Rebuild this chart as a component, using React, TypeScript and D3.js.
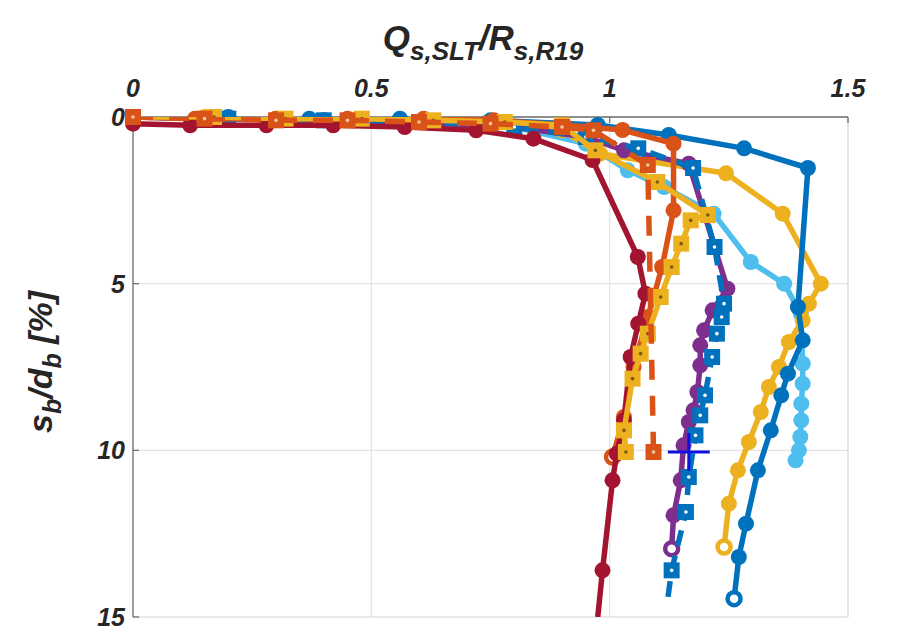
import React from "react";
import * as d3 from "d3";

// ---- data (x = Qs,SLT/Rs,R19, y = sb/db [%]) ----
const redX = [0, 0.12, 0.28, 0.42, 0.57, 0.72, 0.84, 0.964, 1.059, 1.075, 1.06, 1.044, 1.03, 1.015, 1.006, 0.985, 0.975];
const redY = [0.2, 0.25, 0.25, 0.25, 0.3, 0.4, 0.65, 1.29, 4.2, 5.3, 6.2, 7.2, 9.1, 10.1, 10.9, 13.6, 15];

const orangeX = [0, 0.13, 0.3, 0.45, 0.61, 0.757, 0.904, 1.027, 1.134, 1.134, 1.11, 1.08, 1.05, 1.03, 1.006];
const orangeY = [0, 0.05, 0.05, 0.05, 0.05, 0.1, 0.24, 0.39, 0.8, 2.8, 4.5, 6.0, 7.5, 9.0, 10.2];

const orangeDashX = [0, 0.15, 0.3, 0.45, 0.6, 0.75, 0.9, 0.966, 1.08, 1.092];
const orangeDashY = [0, 0.05, 0.1, 0.1, 0.15, 0.2, 0.3, 0.4, 1.44, 10.05];

const yellowSqX = [0, 0.17, 0.32, 0.48, 0.63, 0.78, 0.9, 0.97, 1.1, 1.206, 1.17, 1.15, 1.13, 1.107, 1.08, 1.065, 1.048, 1.03, 1.034];
const yellowSqY = [0, 0.0, 0.05, 0.05, 0.1, 0.15, 0.25, 1.0, 1.95, 2.94, 3.1, 3.8, 4.5, 5.4, 6.5, 7.1, 7.85, 9.4, 10.05];

const yellowX = [0, 0.15, 0.3, 0.45, 0.6, 0.75, 0.9, 0.98, 1.244, 1.363, 1.443, 1.418, 1.405, 1.376, 1.355, 1.334, 1.317, 1.292, 1.269, 1.25, 1.24];
const yellowY = [0, 0, 0.05, 0.1, 0.15, 0.2, 0.4, 1.1, 1.69, 2.9, 5.0, 5.6, 6.1, 6.75, 7.5, 8.1, 8.85, 9.75, 10.6, 11.6, 12.9];

const blueX = [0, 0.2, 0.37, 0.56, 0.75, 0.975, 1.124, 1.282, 1.416, 1.395, 1.405, 1.374, 1.36, 1.338, 1.311, 1.286, 1.271, 1.261];
const blueY = [0, 0, 0.05, 0.05, 0.1, 0.24, 0.54, 0.94, 1.53, 5.7, 6.7, 7.7, 8.35, 9.4, 10.6, 12.2, 13.2, 14.45];

const lightBlueX = [0, 0.2, 0.4, 0.6, 0.8, 0.95, 1.038, 1.114, 1.218, 1.296, 1.366, 1.401, 1.405, 1.405, 1.402, 1.402, 1.4, 1.397, 1.39];
const lightBlueY = [0, 0.05, 0.1, 0.15, 0.3, 0.8, 1.6, 2.1, 2.9, 4.35, 5.0, 5.9, 7.4, 8.0, 8.6, 9.1, 9.6, 10.0, 10.3];

const purpleX = [0, 0.2, 0.4, 0.6, 0.8, 0.95, 1.03, 1.166, 1.247, 1.216, 1.198, 1.19, 1.19, 1.184, 1.176, 1.166, 1.155, 1.149, 1.134, 1.13];
const purpleY = [0, 0.05, 0.1, 0.15, 0.3, 0.6, 1.0, 1.4, 5.15, 5.8, 6.4, 6.85, 7.45, 8.25, 8.8, 9.15, 9.85, 10.9, 11.95, 12.95];

const blueSqX = [0, 0.2, 0.4, 0.6, 0.8, 0.95, 1.06, 1.175, 1.22, 1.24, 1.235, 1.225, 1.215, 1.2, 1.19, 1.18, 1.166, 1.16, 1.13, 1.12];
const blueSqY = [0, 0.05, 0.1, 0.15, 0.3, 0.6, 0.94, 1.53, 3.9, 5.6, 6.0, 6.5, 7.2, 8.35, 8.95, 9.55, 10.8, 11.85, 13.6, 14.65];

const plusX = [1.166];
const plusY = [10.05];

const xTicks = [0, 0.5, 1, 1.5];
const yTicks = [0, 5, 10, 15];

// ---- styling ----
type Series = {
  xs: number[];
  ys: number[];
  color: string;
  marker: "circle" | "square";
  dash?: string;
  hollowLast?: boolean;
  noMarkerLast?: boolean;
  dot?: string;
};

const series: Series[] = [
  { xs: lightBlueX, ys: lightBlueY, color: "#4DBEEE", marker: "circle" },
  { xs: yellowX, ys: yellowY, color: "#EDB120", marker: "circle", hollowLast: true },
  { xs: blueX, ys: blueY, color: "#0072BD", marker: "circle", hollowLast: true },
  { xs: purpleX, ys: purpleY, color: "#7E2F8E", marker: "circle", hollowLast: true },
  { xs: blueSqX, ys: blueSqY, color: "#0072BD", marker: "square", dash: "16 10", noMarkerLast: true, dot: "#ffffff" },
  { xs: orangeX, ys: orangeY, color: "#D95319", marker: "circle", hollowLast: true },
  { xs: redX, ys: redY, color: "#A2142F", marker: "circle", noMarkerLast: true },
  { xs: yellowSqX, ys: yellowSqY, color: "#EDB120", marker: "square", dot: "#7a5a10" },
  { xs: orangeDashX, ys: orangeDashY, color: "#D95319", marker: "square", dash: "20 16", dot: "#f5c9a0" },
];

const W = 897;
const H = 634;
const L = 133, R = 848, T = 117, B = 617;

export default function App() {
  const x = d3.scaleLinear().domain([0, 1.5]).range([L, R]);
  const y = d3.scaleLinear().domain([0, 15]).range([T, B]);
  const font = "'Liberation Sans', Arial, sans-serif";
  const line = d3.line<[number, number]>().x((d) => x(d[0])).y((d) => y(d[1]));

  return (
    <svg width={W} height={H} style={{ position: "absolute", left: 0, top: 0, background: "#fff" }}>
      <defs>
        <clipPath id="plotclip">
          <rect x={L} y={T} width={R - L} height={B - T} />
        </clipPath>
      </defs>
      <rect x={0} y={0} width={W} height={H} fill="#fff" />
      {/* grid */}
      {xTicks.slice(1, -1).map((t) => (
        <line key={"gx" + t} x1={x(t)} x2={x(t)} y1={T} y2={B} stroke="#e3e3e3" strokeWidth={1.2} />
      ))}
      {yTicks.slice(1, -1).map((t) => (
        <line key={"gy" + t} x1={L} x2={R} y1={y(t)} y2={y(t)} stroke="#e3e3e3" strokeWidth={1.2} />
      ))}
      {/* box */}
      <line x1={R} x2={R} y1={T} y2={B} stroke="#d4d4d4" strokeWidth={1.2} />
      <line x1={L} x2={R} y1={B} y2={B} stroke="#d4d4d4" strokeWidth={1.2} />
      <line x1={L} x2={R} y1={T} y2={T} stroke="#6a6a6a" strokeWidth={1.3} />
      <line x1={L} x2={L} y1={T} y2={B} stroke="#6a6a6a" strokeWidth={1.3} />
      {xTicks.map((t) => (
        <line key={"tx" + t} x1={x(t)} x2={x(t)} y1={T} y2={T + 6} stroke="#6a6a6a" strokeWidth={1.2} />
      ))}
      {yTicks.map((t) => (
        <line key={"ty" + t} x1={L} x2={L + 6} y1={y(t)} y2={y(t)} stroke="#6a6a6a" strokeWidth={1.2} />
      ))}
      {/* tick labels */}
      {xTicks.map((t) => (
        <text key={"lx" + t} x={x(t)} y={T - 20} textAnchor="middle" fontFamily={font} fontWeight="bold" fontStyle="italic" fontSize={25} fill="#262626">
          {String(t)}
        </text>
      ))}
      {yTicks.map((t) => (
        <text key={"ly" + t} x={L - 8} y={y(t)} dy="0.36em" textAnchor="end" fontFamily={font} fontWeight="bold" fontStyle="italic" fontSize={25} fill="#262626">
          {String(t)}
        </text>
      ))}
      {/* title */}
      <text x={483} y={50} textAnchor="middle" fontFamily={font} fontWeight="bold" fontStyle="italic" fontSize={35} fill="#262626">
        <tspan>Q</tspan>
        <tspan fontSize={26} dy={10}>s,SLT</tspan>
        <tspan dy={-10}>/R</tspan>
        <tspan fontSize={26} dy={10}>s,R19</tspan>
      </text>
      {/* y label */}
      <text transform={`translate(52, 362) rotate(-90)`} textAnchor="middle" fontFamily={font} fontWeight="bold" fontStyle="italic" fontSize={34} fill="#262626">
        <tspan>s</tspan>
        <tspan fontSize={25} dy={9}>b</tspan>
        <tspan dy={-9}>/d</tspan>
        <tspan fontSize={25} dy={9}>b</tspan>
        <tspan dy={-9}> [%]</tspan>
      </text>
      {/* series */}
      {series.map((s, i) => {
        const pts: [number, number][] = s.xs.map((v, k) => [v, s.ys[k]]);
        const n = pts.length;
        return (
          <g key={"s" + i}>
            <path d={line(pts) || ""} fill="none" stroke={s.color} strokeWidth={5.5} strokeDasharray={s.dash} strokeLinejoin="round" clipPath="url(#plotclip)" />
            {pts.map((p, k) => {
              if (k === n - 1 && s.noMarkerLast) return null;
              const hollow = k === n - 1 && s.hollowLast;
              const cx = x(p[0]);
              const cy = y(p[1]);
              if (s.marker === "circle") {
                return hollow ? (
                  <circle key={k} cx={cx} cy={cy} r={6.5} fill="#fff" stroke={s.color} strokeWidth={4.5} />
                ) : (
                  <circle key={k} cx={cx} cy={cy} r={8} fill={s.color} />
                );
              }
              return (
                <g key={k}>
                  <rect x={cx - 8} y={cy - 8} width={16} height={16} fill={s.color} />
                  <circle cx={cx} cy={cy} r={1.8} fill={s.dot || "#fff"} />
                </g>
              );
            })}
          </g>
        );
      })}
      {/* plus marker */}
      {plusX.map((v, k) => (
        <g key={"p" + k} stroke="#1010e0" strokeWidth={3}>
          <line x1={x(v) - 21} x2={x(v) + 21} y1={y(plusY[k])} y2={y(plusY[k])} />
          <line x1={x(v)} x2={x(v)} y1={y(plusY[k]) - 19} y2={y(plusY[k]) + 19} />
        </g>
      ))}
    </svg>
  );
}
